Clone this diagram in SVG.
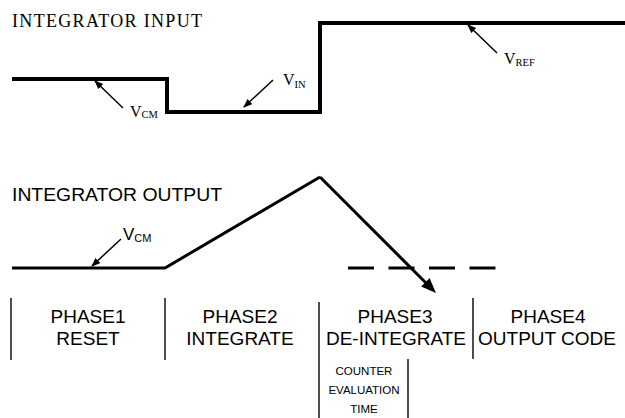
<svg xmlns="http://www.w3.org/2000/svg" width="625" height="418" viewBox="0 0 625 418">
<style>
.serif{font-family:"Liberation Serif","Times New Roman",serif;fill:#000}
.sans{font-family:"Liberation Sans",Arial,sans-serif;fill:#000}
.wave{fill:none;stroke:#000;stroke-linejoin:miter}
.thin{fill:none;stroke:#000;stroke-width:1.5}
.div{fill:none;stroke:#000;stroke-width:1.4}
.ph{font-size:19px;text-anchor:middle}
.ce{font-size:11.5px;text-anchor:middle}
</style>
<defs>
<marker id="sa" markerUnits="userSpaceOnUse" markerWidth="10" markerHeight="8" refX="8" refY="3.5" orient="auto">
<path d="M0,0 L9,3.5 L0,7 z" fill="#000"/>
</marker>
<marker id="ba" markerUnits="userSpaceOnUse" markerWidth="16" markerHeight="13" refX="8" refY="6" orient="auto">
<path d="M0,0 L15,6 L0,12 z" fill="#000"/>
</marker>
</defs>
<g id="input-title"><text class="serif" x="12" y="27" font-size="18" textLength="190" lengthAdjust="spacing">INTEGRATOR INPUT</text></g>
<g id="input-wave"><path class="wave" stroke-width="4" d="M12,79 H167 V112 H320 V23 H625"/></g>
<g id="label-vcm-in"><text class="serif" x="130" y="117" font-size="16">V<tspan font-size="10.5" dy="1">CM</tspan></text></g>
<g id="label-vin"><text class="serif" x="283" y="85" font-size="16">V<tspan font-size="10.5" dy="3">IN</tspan></text></g>
<g id="label-vref"><text class="serif" x="504" y="64" font-size="16">V<tspan font-size="10.5" dy="2">REF</tspan></text></g>
<g id="output-title"><text class="sans" x="12" y="201" font-size="19" textLength="210" lengthAdjust="spacingAndGlyphs">INTEGRATOR OUTPUT</text></g>
<g id="output-wave">
<path class="wave" stroke-width="3" d="M12,268 H165 L320,177"/>
<path class="wave" stroke-width="3" stroke-dasharray="26,14.5" d="M348,268 H497"/>
</g>
<g id="label-vcm-out"><text class="sans" x="123" y="240" font-size="17">V<tspan font-size="11" dy="2">CM</tspan></text></g>
<g id="connectors">
<line class="thin" x1="123" y1="108" x2="95" y2="81" marker-end="url(#sa)"/>
<line class="thin" x1="273" y1="80" x2="244" y2="107" marker-end="url(#sa)"/>
<line class="thin" x1="497" y1="53" x2="468" y2="25" marker-end="url(#sa)"/>
<line class="thin" x1="121" y1="239" x2="92" y2="266" marker-end="url(#sa)"/>
<path class="wave" stroke-width="3" d="M320,177 L431,288" marker-end="url(#ba)"/>
</g>
<g id="dividers">
<line class="div" x1="11" y1="298" x2="11" y2="360"/>
<line class="div" x1="165" y1="298" x2="165" y2="360"/>
<line class="div" x1="319" y1="302" x2="319" y2="418"/>
<line class="div" x1="473" y1="298" x2="473" y2="359"/>
<line class="div" x1="408" y1="359" x2="408" y2="418"/>
</g>
<g id="phase1"><text class="sans ph" x="88" y="323">PHASE1</text><text class="sans ph" x="88" y="345">RESET</text></g>
<g id="phase2"><text class="sans ph" x="240" y="323">PHASE2</text><text class="sans ph" x="240" y="345">INTEGRATE</text></g>
<g id="phase3"><text class="sans ph" x="395" y="323">PHASE3</text><text class="sans ph" x="396" y="345">DE-INTEGRATE</text></g>
<g id="phase4"><text class="sans ph" x="548" y="323">PHASE4</text><text class="sans ph" x="547" y="345">OUTPUT CODE</text></g>
<g id="counter"><text class="sans ce" x="364" y="375">COUNTER</text><text class="sans ce" x="364" y="394">EVALUATION</text><text class="sans ce" x="364" y="413">TIME</text></g>
</svg>
